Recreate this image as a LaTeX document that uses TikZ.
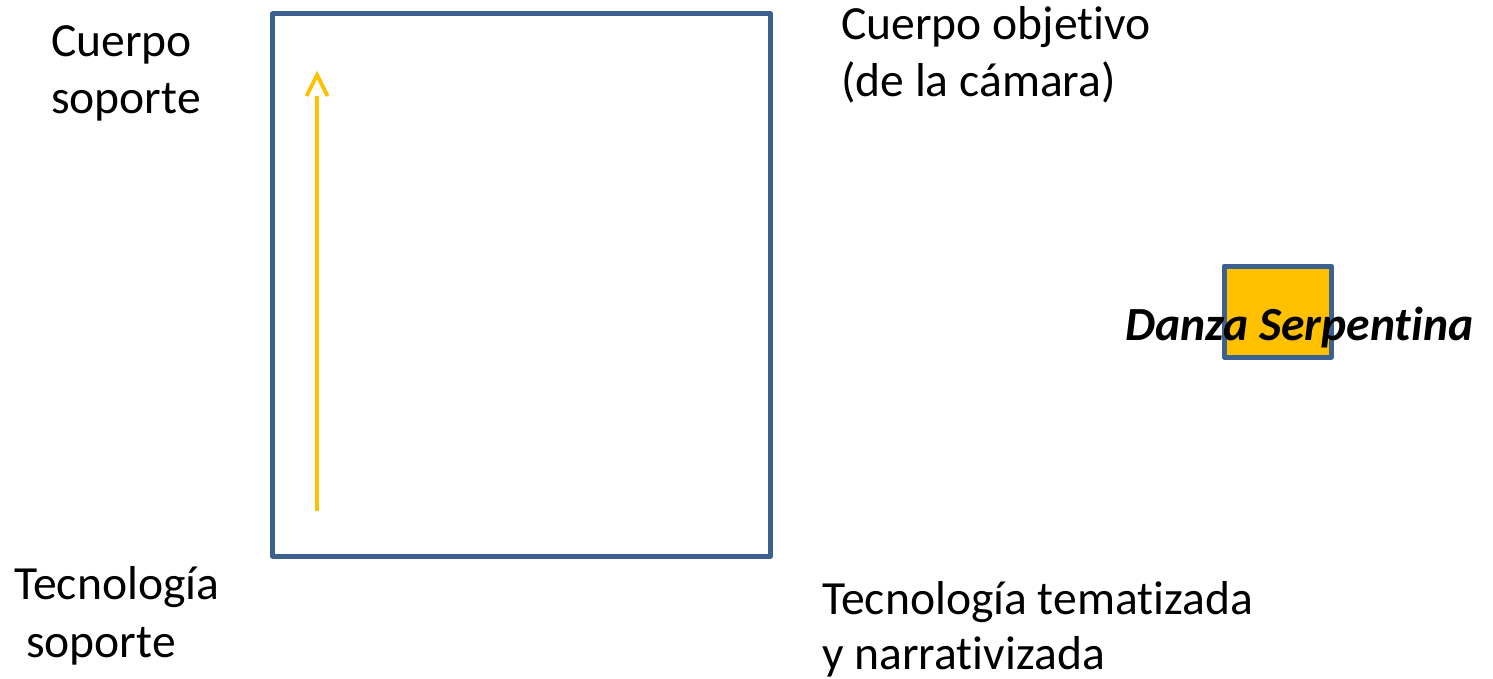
\documentclass[tikz,border=0pt]{standalone}
\usepackage{fontspec}
\setmainfont{Carlito}[RawFeature={-liga;-clig;-calt;-dlig}]
\definecolor{boxblue}{HTML}{3C6191}
\definecolor{amber}{HTML}{FFC000}
\begin{document}
\begin{tikzpicture}[x=1pt,y=-1pt,
  lbl/.style={anchor=base west,inner sep=0pt,font=\fontsize{47.6}{57}\selectfont},
  frame/.style={draw=boxblue,line width=5pt,line join=round},
  arr/.style={draw=amber,line width=3.8pt}]
\useasboundingbox (0,0) rectangle (1493,679);
\draw[frame] (272.5,14) rectangle (770.5,556);
\fill[amber] (1224,266) rectangle (1331,357);
\draw[frame] (1224,266) rectangle (1331,357);
\coordinate (a0) at (317,511);
\coordinate (a1) at (317,96);
\coordinate (tip) at (317,75);
\draw[arr] (a0) -- (a1);
\draw[arr,line join=miter] (306.5,96) -- (tip) -- (327.5,96);
\node[lbl] (cs1) at (51,57) {Cuerpo};
\node[lbl] (cs2) at (51,114) {soporte};
\node[lbl] (co1) at (841,40) {Cuerpo objetivo};
\node[lbl] (co2) at (841,97) {(de la cámara)};
\node[lbl] (ts1) at (14,599) {Tecnología};
\node[lbl] (ts2) at (26,657) {soporte};
\node[lbl] (tt1) at (822,614) {Tecnología tematizada};
\node[lbl] (tt2) at (822,669) {y narrativizada};
\node[lbl,font=\fontsize{47.6}{57}\selectfont\bfseries\itshape] (ds) at (1125,340) {Danza Serpentina};
\end{tikzpicture}
\end{document}
